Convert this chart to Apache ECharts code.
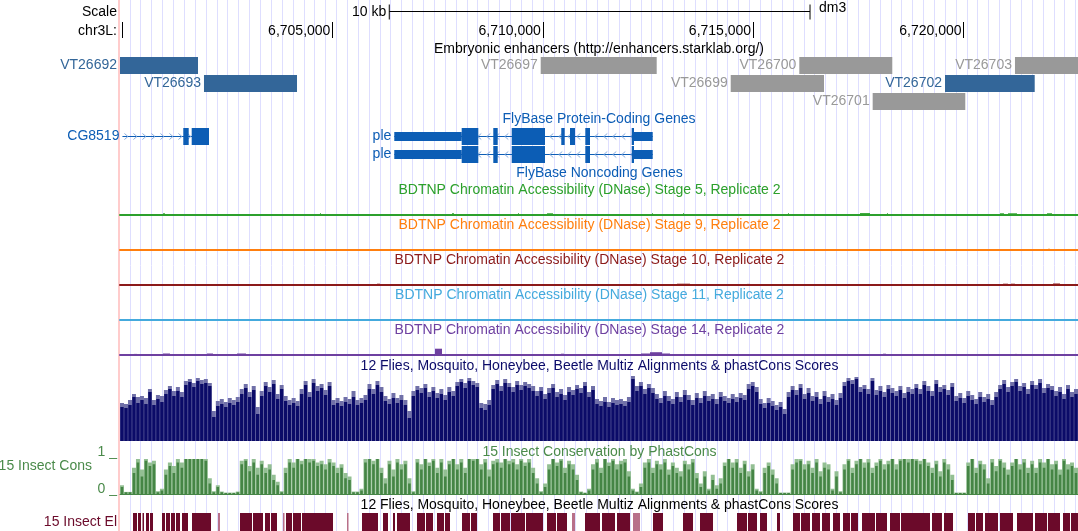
<!DOCTYPE html>
<html><head><meta charset="utf-8">
<script src="https://cdn.jsdelivr.net/npm/echarts@6/dist/echarts.min.js"></script>
<style>html,body{margin:0;padding:0;background:#fff}#c{width:1078px;height:531px}</style>
</head><body><div id="c"></div>
<script>
// ---------- DATA ----------
const viewStart = 6699952, viewEnd = 6722721;           // chr3L window (bp)
const rulerTicks = [6700000, 6705000, 6710000, 6715000, 6720000];
const rulerLabels = [6705000, 6710000, 6715000, 6720000];
const scaleBar = [6706352, 6716352];                       // 10 kb bar

const enhNames = ['VT26692','VT26693','VT26697','VT26699','VT26700','VT26701','VT26702','VT26703'];
const enhStart = [6699800, 6701948, 6709951, 6714467, 6716097, 6717841, 6719560, 6721223];
const enhEnd   = [6701806, 6704159, 6712708, 6716684, 6718307, 6720042, 6721692, 6723300];
const enhRow   = [0, 1, 0, 1, 0, 2, 1, 0];
const enhBlue  = [1, 1, 0, 0, 0, 0, 1, 0];

const geneNames = ['CG8519', 'ple', 'ple'];
const geneRow = [0, 0, 1];
const geneStrand = ['+', '-', '-'];
const geneTxStart = [6700010, 6706471, 6706471];
const geneTxEnd = [6702067, 6712613, 6712613];
const geneThickStart = [6700010, 6708073, 6708073];
const geneThickEnd = [6702067, 6712168, 6712168];
const geneExons = [
  [[6701456, 6701585], [6701656, 6702067]],
  [[6706471, 6708468], [6708824, 6708929], [6709262, 6710053], [6710440, 6710521], [6710647, 6710766], [6711011, 6711122], [6712114, 6712613]],
  [[6706471, 6708468], [6708824, 6708929], [6709262, 6710053], [6711011, 6711122], [6712114, 6712613]]
];

const dnaseTitles = [
  'BDTNP Chromatin Accessibility (DNase) Stage 5, Replicate 2',
  'BDTNP Chromatin Accessibility (DNase) Stage 9, Replicate 2',
  'BDTNP Chromatin Accessibility (DNase) Stage 10, Replicate 2',
  'BDTNP Chromatin Accessibility (DNase) Stage 11, Replicate 2',
  'BDTNP Chromatin Accessibility (DNase) Stage 14, Replicate 2'
];
// [start, end, signal]
const dnaseStage5 = [[6700974,6701022,1],[6704705,6704729,1],[6707843,6707890,1],[6709411,6709435,1],[6710101,6710243,1],[6712596,6712620,1],[6713333,6713357,1],[6715828,6715852,1],[6717540,6717777,1.2],[6718181,6718205,1],[6720867,6720962,1],[6721057,6721271,1],[6721984,6722103,1]];
const dnaseStage9 = [[6722008,6722055,1]];
const dnaseStage10 = [[6706060,6706131,1],[6712144,6712240,0.8],[6713190,6713499,1],[6714854,6714925,0.8],[6720938,6721057,1],[6721128,6721223,1],[6722127,6722293,1.2]];
const dnaseStage11 = [[6700974,6701045,1],[6707486,6707605,1],[6713428,6713499,1],[6717540,6717563,1]];
const dnaseStage14 = [[6700285,6700356,0.8],[6700974,6701140,1.2],[6701806,6701830,0.8],[6702020,6702162,1.2],[6702733,6702947,1.2],[6707439,6707605,6],[6708865,6708912,0.8],[6710433,6710505,1],[6712335,6712549,1.2],[6712549,6712834,2.5],[6712834,6713024,1.2],[6713333,6713357,0.8],[6718086,6718158,1],[6721223,6721271,0.8]];

// multiz / phastCons summary, 240 equal bins across the window (mean and max per bin)
const multizMean = [34,33,36,44,38,41,37,49,36,42,39,47,52,45,50,44,56,59,54,60,57,58,55,24,35,37,34,38,36,39,47,53,44,51,27,45,55,49,57,42,52,40,36,38,35,47,56,44,58,50,53,46,55,36,38,35,39,37,44,36,38,41,52,47,56,49,40,37,43,38,41,36,23,45,51,48,53,44,50,43,47,41,49,45,55,59,53,60,56,54,33,31,36,52,57,50,58,54,49,56,51,55,53,50,45,50,42,48,53,44,47,41,49,46,52,48,55,44,51,37,35,39,34,38,36,37,35,39,62,50,55,47,53,48,42,38,45,40,37,44,39,46,41,36,43,38,45,40,42,37,44,40,38,42,39,43,41,52,55,49,37,33,38,35,31,34,27,44,51,46,53,42,48,40,44,37,45,39,42,36,43,55,60,57,62,49,52,47,60,46,50,44,52,48,45,51,43,49,47,53,47,56,50,45,57,49,52,46,54,40,43,38,45,41,37,44,39,42,36,44,52,57,49,55,59,50,54,47,56,52,58,48,53,51,45,49,42,52,44,47];
const multizMax = [38,37,41,47,44,45,43,52,41,46,45,51,55,50,54,49,60,62,58,63,61,62,58,30,40,42,39,43,41,44,52,57,49,55,34,50,59,54,61,47,56,45,41,43,40,52,60,49,62,55,57,51,59,41,43,40,44,42,50,41,43,46,57,52,60,54,45,42,48,43,46,41,30,50,55,53,57,49,54,48,52,46,54,50,59,62,58,63,60,58,38,37,41,56,61,55,62,58,54,60,56,59,57,55,50,54,47,53,57,49,52,46,54,51,56,53,59,49,55,42,40,44,39,43,41,42,40,44,65,55,59,52,57,53,47,43,50,45,42,49,44,51,46,41,48,43,50,45,47,42,49,45,43,47,44,48,46,57,59,54,42,38,43,40,36,39,32,49,55,51,57,47,53,45,49,42,50,44,47,41,48,59,63,61,64,54,56,52,63,51,55,49,56,53,50,55,48,54,52,57,52,60,55,50,61,54,56,51,58,45,48,43,50,46,42,49,44,47,41,49,56,61,54,59,62,55,58,52,60,56,62,53,57,55,50,54,47,56,49,52];
const consMean = [0.2,0.05,0.05,0.6,0.9,0.5,0.95,0.8,0.85,0.05,0.1,0.55,0.8,0.6,0.9,0.75,1,1,1,1,1,0.95,0.3,0.05,0.2,0.05,0.03,0.03,0.03,0.05,0.85,0.95,0.65,0.9,0.55,0.85,0.6,0.7,0.4,0.25,0.05,0.6,0.9,0.75,1,0.85,1,0.9,0.95,0.8,0.85,0.7,0.9,0.8,0.6,0.75,0.45,0.4,0.05,0.05,0.1,0.9,1,0.85,1,0.6,0.3,0.85,0.5,0.9,0.7,0.85,0.3,0.05,0.9,0.7,1,0.8,0.95,0.6,0.9,0.5,0.85,1,0.7,0.9,0.6,1,0.95,1,0.7,0.9,0.5,0.85,0.9,0.75,1,0.85,0.9,0.7,0.95,0.8,0.9,0.6,0.3,0.05,0.2,0.7,1,0.8,0.95,0.6,0.85,0.7,0.4,0.05,0.03,0.1,0.7,0.9,0.6,1,0.8,0.95,0.7,0.85,0.9,0.5,0.1,0.05,0.2,0.75,0.9,0.6,0.85,0.7,0.9,0.55,0.8,0.6,0.5,0.85,0.7,0.9,0.45,0.2,0.5,0.1,0.4,0.15,0.3,0.8,1,0.75,0.9,0.6,0.85,0.5,0.7,0.1,0.05,0.6,0.8,0.55,0.3,0.03,0.03,0.03,0.7,0.9,0.95,0.7,0.85,0.6,0.9,0.5,0.75,0.7,0.1,0.5,0.05,0.7,0.95,0.6,0.85,1,0.75,0.9,0.6,0.8,0.95,0.7,0.85,1,0.7,0.95,1,0.9,1,0.95,0.85,1,0.8,0.6,0.85,0.5,0.9,0.7,0.4,0.03,0.03,0.03,0.8,1,0.6,0.85,0.7,0.3,0.9,0.65,0.95,0.75,0.55,0.8,1,0.7,0.9,0.6,0.85,0.6,0.9,0.75,1,0.7,0.85,0.55,0.95,0.7,0.8,0.6];
const consMax = [0.25,0.06,0.06,0.75,1,0.7,1,0.9,0.95,0.08,0.15,0.7,0.9,0.8,1,0.9,1,1,1,1,1,1,0.45,0.08,0.25,0.07,0.04,0.04,0.04,0.07,0.95,1,0.8,1,0.75,0.95,0.75,0.85,0.55,0.35,0.08,0.75,1,0.9,1,0.95,1,1,1,0.9,0.95,0.85,1,0.9,0.75,0.85,0.6,0.5,0.07,0.07,0.15,1,1,0.95,1,0.75,0.45,0.95,0.7,1,0.85,0.95,0.45,0.08,1,0.85,1,0.9,1,0.75,1,0.7,0.95,1,0.85,1,0.75,1,1,1,0.85,1,0.7,0.95,1,0.9,1,0.95,1,0.85,1,0.9,1,0.75,0.45,0.08,0.3,0.85,1,0.9,1,0.75,0.95,0.85,0.55,0.07,0.04,0.15,0.85,1,0.75,1,0.9,1,0.85,0.95,1,0.65,0.15,0.07,0.3,0.9,1,0.75,0.95,0.85,1,0.7,0.9,0.75,0.65,0.95,0.85,1,0.6,0.3,0.65,0.15,0.55,0.25,0.45,0.9,1,0.9,1,0.75,0.95,0.65,0.85,0.15,0.08,0.75,0.9,0.7,0.45,0.04,0.04,0.04,0.85,1,1,0.85,0.95,0.75,1,0.65,0.9,0.85,0.15,0.65,0.08,0.85,1,0.75,0.95,1,0.9,1,0.75,0.9,1,0.85,0.95,1,0.85,1,1,1,1,1,0.95,1,0.9,0.75,0.95,0.65,1,0.85,0.55,0.04,0.04,0.04,0.9,1,0.75,0.95,0.85,0.45,1,0.8,1,0.9,0.7,0.9,1,0.85,1,0.75,0.95,0.75,1,0.9,1,0.85,0.95,0.7,1,0.85,0.9,0.75];
const binLabels = multizMean.map((_, i) => 'bin' + i);

// 15 insect conserved elements [start, end], shade 1 = strong, 0 = weak
const elemStart = [6700261,6700380,6700487,6700570,6700665,6700950,6701045,6701164,6701283,6701426,6701663,6702281,6702804,6703113,6703398,6703541,6703826,6703897,6704064,6704278,6705347,6705704,6706203,6706440,6706535,6707011,6707225,6707486,6707676,6708080,6708294,6708817,6709007,6709245,6709601,6710101,6710338,6710695,6711004,6711408,6711764,6712144,6712620,6713333,6713737,6714616,6714878,6715163,6715567,6715947,6716137,6716399,6716636,6716898,6717136,6717326,6717587,6717920,6718253,6718514,6719251,6719536,6720106,6720297,6720510,6720867,6721271,6721699,6722007,6722364,6722555];
const elemEnd   = [6700356,6700451,6700522,6700641,6700736,6701022,6701140,6701259,6701378,6701568,6702115,6702329,6703089,6703351,6703517,6703683,6703862,6704040,6704254,6705014,6705383,6706084,6706322,6706488,6706844,6707201,6707391,6707653,6707795,6708270,6708437,6708983,6709221,6709578,6710005,6710314,6710576,6710766,6711360,6711717,6712073,6712311,6712858,6713570,6714046,6714854,6715092,6715329,6715638,6716114,6716351,6716589,6716827,6717064,6717302,6717492,6717896,6718181,6718490,6719203,6719488,6719750,6720273,6720463,6720819,6721176,6721651,6721984,6722293,6722531,6722800];
const elemShade = [1,1,1,1,1,1,1,1,1,1,1,0,1,1,1,1,0,1,1,1,0,1,1,1,1,1,1,1,1,1,1,1,1,1,1,1,1,0,1,1,1,0,1,1,1,1,1,1,1,1,1,1,1,1,1,1,1,1,1,1,1,1,1,1,1,1,1,1,1,1,1];

// ---------- STYLE ----------
const FONT = 'Liberation Sans';
const C = {
  guide: '#dedeff', pink: '#ffcccc', enhBlue: '#336699', enhGray: '#999999',
  gene: '#0c5db5', chev: '#8aaee0',
  dnase: ['#2ca02c', '#ff7f0e', '#8b1a1a', '#44aadd', '#6e40a0'],
  navy: '#0b0b68', navyLight: '#7070a8', cons: '#458545', consLight: '#93bf93', consText: '#4a8a4a',
  elem: '#6b0a2a', elemLight: '#b8708a'
};
const dnaseData = [dnaseStage5, dnaseStage9, dnaseStage10, dnaseStage11, dnaseStage14];
const dnaseBase = [214.3, 249.7, 284.7, 320, 354.7];
const dnaseTitleY = [190.3, 225.3, 260.3, 295.3, 330.3];

function txt(text, x, y, align, color, size) {
  return { type: 'text', silent: true, z: 50,
    style: { text, x, y, fill: color || '#000', font: (size || 14) + 'px "' + FONT + '"',
      align: align || 'center', textAlign: align || 'center', verticalAlign: 'middle', textVerticalAlign: 'middle' } };
}
function tstyle(text, x, y, align, color) {
  return { text, x, y, fill: color, font: '14px "' + FONT + '"', align, verticalAlign: 'middle' };
}

// ---------- GRIDS / AXES ----------
const grids = [], xAxes = [], yAxes = [];
function addGrid(g, xa, ya) {
  grids.push(g);
  const gi = grids.length - 1;
  (Array.isArray(xa) ? xa : [xa]).forEach(a => { a.gridIndex = gi; xAxes.push(a); });
  ya.gridIndex = gi; yAxes.push(ya);
  return { grid: gi, x: xAxes.length - 1, y: yAxes.length - 1 };
}
const hiddenVal = (extra) => Object.assign({ type: 'value', show: false, min: viewStart, max: viewEnd }, extra || {});

// guidelines + left pink border
addGrid({ left: 119, right: 0, top: 0, bottom: 0 },
  { type: 'value', min: 0, max: 959 / 10.87, interval: 1, axisLine: { show: false }, axisTick: { show: false }, axisLabel: { show: false },
    splitLine: { show: true, lineStyle: { color: C.guide, width: 1 } } },
  { type: 'value', min: 0, max: 1, axisLine: { show: true, lineStyle: { color: C.pink, width: 2 } }, axisTick: { show: false }, axisLabel: { show: false }, splitLine: { show: false } });
// scale bar
const A_SCALE = addGrid({ left: 120, right: 0, top: 4, height: 16 }, hiddenVal(), { type: 'value', min: -1, max: 1, show: false });
// ruler (axis line at grid bottom, ticks pointing up, labels inside)
addGrid({ left: 120, right: 0, top: 22, height: 16 },
  { type: 'value', min: viewStart, max: viewEnd, position: 'bottom',
    axisLine: { show: false, onZero: false }, splitLine: { show: false },
    axisTick: { show: true, inside: true, length: 16, customValues: rulerTicks, lineStyle: { color: '#000', width: 1 } },
    axisLabel: { show: true, inside: true, customValues: rulerLabels, margin: 7, align: 'right', verticalAlign: 'middle',
      padding: [0, 2, 0, 0], color: '#000', fontSize: 14, fontFamily: FONT,
      formatter: v => Number(v).toLocaleString('en-US') } },
  { type: 'value', min: 0, max: 1, show: false });
// enhancers
const A_ENH = addGrid({ left: 120, right: 0, top: 56.5, height: 54 }, hiddenVal(),
  { type: 'category', data: ['r1', 'r2', 'r3'], inverse: true, show: false });
// genes
const A_GENE = addGrid({ left: 120, right: 0, top: 127.5, height: 36 }, hiddenVal(),
  { type: 'category', data: ['r1', 'r2'], inverse: true, show: false });
// DNase
const A_DNASE = dnaseBase.map((b, k) => addGrid({ left: 120, right: 0, top: b - 20, height: 20 },
  { type: 'value', min: viewStart, max: viewEnd, axisLabel: { show: false }, axisTick: { show: false }, splitLine: { show: false },
    axisLine: { show: true, onZero: false, lineStyle: { color: C.dnase[k], width: 2 } } },
  { type: 'value', min: 0, max: 20, show: false }));
// multiz: two category axes (max behind, mean in front)
const A_MZ = addGrid({ left: 120, right: 0, top: 376, height: 65 },
  [{ type: 'category', data: binLabels, show: false, boundaryGap: true, position: 'bottom' },
   { type: 'category', data: binLabels, show: false, boundaryGap: true, position: 'top' }],
  { type: 'value', min: 0, max: 65, show: false });
// phastCons
const A_CONS = addGrid({ left: 120, right: 0, top: 459, height: 35 },
  [{ type: 'category', data: binLabels, boundaryGap: true, position: 'bottom', axisLabel: { show: false }, axisTick: { show: false },
     axisLine: { show: true, onZero: false, lineStyle: { color: C.cons, width: 1 } } },
   { type: 'category', data: binLabels, show: false, boundaryGap: true, position: 'top' }],
  { type: 'value', min: 0, max: 1, show: false });
// elements
const A_EL = addGrid({ left: 120, right: 0, top: 513, height: 18 }, hiddenVal(), { type: 'value', min: 0, max: 1, show: false });

// ---------- SERIES ----------
const series = [];
series.push({ type: 'custom', xAxisIndex: A_SCALE.x, yAxisIndex: A_SCALE.y, data: [scaleBar], clip: false,
  renderItem(params, api) {
    const a = api.coord([api.value(0), 0]), b = api.coord([api.value(1), 0]);
    const y = Math.round(a[1]) - 0.5;
    return { type: 'group', children: [
      { type: 'line', shape: { x1: a[0], y1: y, x2: b[0], y2: y }, style: { stroke: '#000', lineWidth: 1 } },
      { type: 'line', shape: { x1: a[0], y1: y - 7, x2: a[0], y2: y + 8 }, style: { stroke: '#000', lineWidth: 1 } },
      { type: 'line', shape: { x1: b[0], y1: y - 7, x2: b[0], y2: y + 8 }, style: { stroke: '#000', lineWidth: 1 } },
      { type: 'text', style: tstyle('10 kb', a[0] - 3, y + 1, 'right', '#000') },
      { type: 'text', style: tstyle('dm3', b[0] + 9, y - 3, 'left', '#000') }
    ] };
  } });

series.push({ type: 'custom', xAxisIndex: A_ENH.x, yAxisIndex: A_ENH.y, clip: false,
  data: enhNames.map((n, i) => [enhStart[i], enhEnd[i], enhRow[i]]),
  renderItem(params, api) {
    const i = params.dataIndex, cs = params.coordSys;
    const s = api.coord([api.value(0), api.value(2)]), e = api.coord([api.value(1), api.value(2)]);
    const h = api.size([0, 1])[1] - 1;
    const r = echarts.graphic.clipRectByRect({ x: s[0], y: s[1] - h / 2, width: e[0] - s[0], height: h },
      { x: cs.x, y: cs.y - 5, width: cs.width, height: cs.height + 10 });
    const col = enhBlue[i] ? C.enhBlue : C.enhGray;
    return { type: 'group', children: [
      { type: 'rect', shape: r, style: { fill: col } },
      { type: 'text', style: tstyle(enhNames[i], r.x - 3, s[1], 'right', col) }
    ] };
  } });

series.push({ type: 'custom', xAxisIndex: A_GENE.x, yAxisIndex: A_GENE.y, clip: false,
  data: geneNames.map((n, i) => [geneTxStart[i], geneTxEnd[i], geneRow[i]]),
  renderItem(params, api) {
    const i = params.dataIndex, cs = params.coordSys, row = geneRow[i];
    const X = v => api.coord([v, row])[0];
    const yc = api.coord([geneTxStart[i], row])[1];
    const hFull = api.size([0, 1])[1] - 1, hHalf = 9;
    const left = cs.x, right = cs.x + cs.width;
    const xs = Math.max(X(geneTxStart[i]), left), xe = Math.min(X(geneTxEnd[i]), right);
    const ch = [];
    ch.push({ type: 'line', shape: { x1: xs, y1: yc, x2: xe, y2: yc }, style: { stroke: C.gene, lineWidth: 1 } });
    const d = geneStrand[i] === '+' ? 1 : -1;
    for (let x = xs + 4; x < xe - 2; x += 9) {
      ch.push({ type: 'polyline', shape: { points: [[x - 2 * d, yc - 3], [x + 1.5 * d, yc], [x - 2 * d, yc + 3]] },
        style: { stroke: C.chev, lineWidth: 1, fill: 'none' } });
    }
    const ts = geneThickStart[i], te = geneThickEnd[i];
    const box = (a, b, h) => {
      const x1 = Math.max(X(a), left), x2 = Math.min(X(b), right);
      if (x2 > x1) ch.push({ type: 'rect', shape: { x: x1, y: yc - h / 2, width: Math.max(x2 - x1, 1), height: h }, style: { fill: C.gene } });
    };
    geneExons[i].forEach(([s, e]) => {
      if (s < ts) box(s, Math.min(e, ts), hHalf);
      if (e > te) box(Math.max(s, te), e, hHalf);
      const a = Math.max(s, ts), b = Math.min(e, te);
      if (b > a) box(a, b, hFull);
    });
    ch.push({ type: 'text', style: tstyle(geneNames[i], xs - 3, yc, 'right', C.gene) });
    return { type: 'group', children: ch };
  } });

dnaseData.forEach((arr, k) => {
  series.push({ type: 'custom', xAxisIndex: A_DNASE[k].x, yAxisIndex: A_DNASE[k].y, data: arr,
    renderItem(params, api) {
      const p0 = api.coord([api.value(0), api.value(2)]), p1 = api.coord([api.value(1), 0]);
      return { type: 'rect', shape: { x: p0[0], y: p0[1], width: Math.max(p1[0] - p0[0], 1), height: p1[1] - p0[1] },
        style: { fill: C.dnase[k] } };
    } });
});

series.push({ type: 'bar', xAxisIndex: A_MZ.x - 1, yAxisIndex: A_MZ.y, data: multizMax, barWidth: '100%',
  itemStyle: { color: C.navyLight }, silent: true });
series.push({ type: 'bar', xAxisIndex: A_MZ.x, yAxisIndex: A_MZ.y, data: multizMean, barWidth: '85%',
  itemStyle: { color: C.navy }, silent: true });
series.push({ type: 'bar', xAxisIndex: A_CONS.x - 1, yAxisIndex: A_CONS.y, data: consMax, barWidth: '100%',
  itemStyle: { color: C.consLight }, silent: true });
series.push({ type: 'bar', xAxisIndex: A_CONS.x, yAxisIndex: A_CONS.y, data: consMean, barWidth: '65%',
  itemStyle: { color: C.cons }, silent: true });

series.push({ type: 'custom', xAxisIndex: A_EL.x, yAxisIndex: A_EL.y,
  data: elemStart.map((s, i) => [s, elemEnd[i]]),
  renderItem(params, api) {
    const i = params.dataIndex;
    const p0 = api.coord([api.value(0), 1]), p1 = api.coord([api.value(1), 0]);
    return { type: 'rect', shape: { x: p0[0], y: p0[1], width: Math.max(p1[0] - p0[0], 1), height: p1[1] - p0[1] },
      style: { fill: elemShade[i] ? C.elem : C.elemLight } };
  } });

// ---------- TEXT ----------
const graphics = [
  txt('Scale', 117, 12.5, 'right'),
  txt('chr3L:', 117, 31, 'right'),
  txt('Embryonic enhancers (http://enhancers.starklab.org/)', 599, 49, 'center'),
  txt('FlyBase Protein-Coding Genes', 599, 119.5, 'center', C.gene),
  txt('FlyBase Noncoding Genes', 599.5, 173.3, 'center', C.gene),
  txt('12 Flies, Mosquito, Honeybee, Beetle Multiz Alignments & phastCons Scores', 599.5, 366, 'center', C.navy),
  txt('15 Insect Conservation by PhastCons', 599.5, 451.7, 'center', C.consText),
  txt('15 Insect Cons', 92, 465.7, 'right', C.consText),
  txt('1 _', 117, 452, 'right', C.consText),
  txt('0 _', 117, 489.5, 'right', C.consText),
  txt('12 Flies, Mosquito, Honeybee, Beetle Multiz Alignments & phastCons Scores', 599.5, 505.3, 'center', '#000'),
  txt('15 Insect El', 117, 522.5, 'right', C.elem)
];
dnaseTitles.forEach((t, k) => graphics.push(txt(t, 589.5, dnaseTitleY[k], 'center', C.dnase[k])));

const chart = echarts.init(document.getElementById('c'), null, { renderer: 'canvas' });
chart.setOption({
  animation: false, backgroundColor: '#fff',
  grid: grids, xAxis: xAxes, yAxis: yAxes, series, graphic: graphics
});
</script></body></html>
